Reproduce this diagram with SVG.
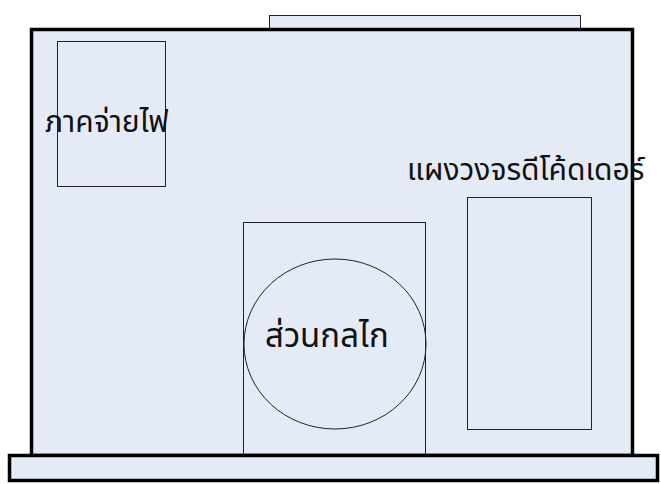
<svg xmlns="http://www.w3.org/2000/svg" width="661" height="484" viewBox="0 0 661 484">
<style>
.thin{fill:#e5ebf6;stroke:#222;stroke-width:1}
.none{fill:none;stroke:#222;stroke-width:1}
.thick{fill:#e5ebf6;stroke:#000;stroke-width:3.5}
.lbl{font-family:"Noto Sans Thai","Noto Serif Thai","Tlwg Typo","Garuda","Loma","Laksaman","DejaVu Sans",sans-serif;font-size:30px;fill:#111}
</style>
<rect width="661" height="484" fill="#ffffff"/>
<g id="top-bar"><rect class="thin" x="269.5" y="15.5" width="311" height="13"/></g>
<g id="housing"><rect class="thick" x="31.5" y="29.5" width="601" height="426"/></g>
<g id="power-supply">
<rect class="none" x="57.5" y="41.5" width="108" height="145"/>
<text class="lbl" x="45" y="132">ภาคจ่ายไฟ</text>
</g>
<g id="decoder-board">
<rect class="none" x="467.5" y="197.5" width="124" height="232"/>
<text class="lbl" x="407" y="180">แผงวงจรดีโค้ดเดอร์</text>
</g>
<g id="mechanism">
<rect class="none" x="243.5" y="222.5" width="182" height="233"/>
<ellipse class="none" cx="335" cy="344" rx="91" ry="85"/>
<text class="lbl" x="265" y="347" style="font-size:33px">ส่วนกลไก</text>
</g>
<g id="connectors"/>
<g id="base"><rect class="thick" x="9.5" y="455.5" width="648" height="25"/></g>
</svg>
